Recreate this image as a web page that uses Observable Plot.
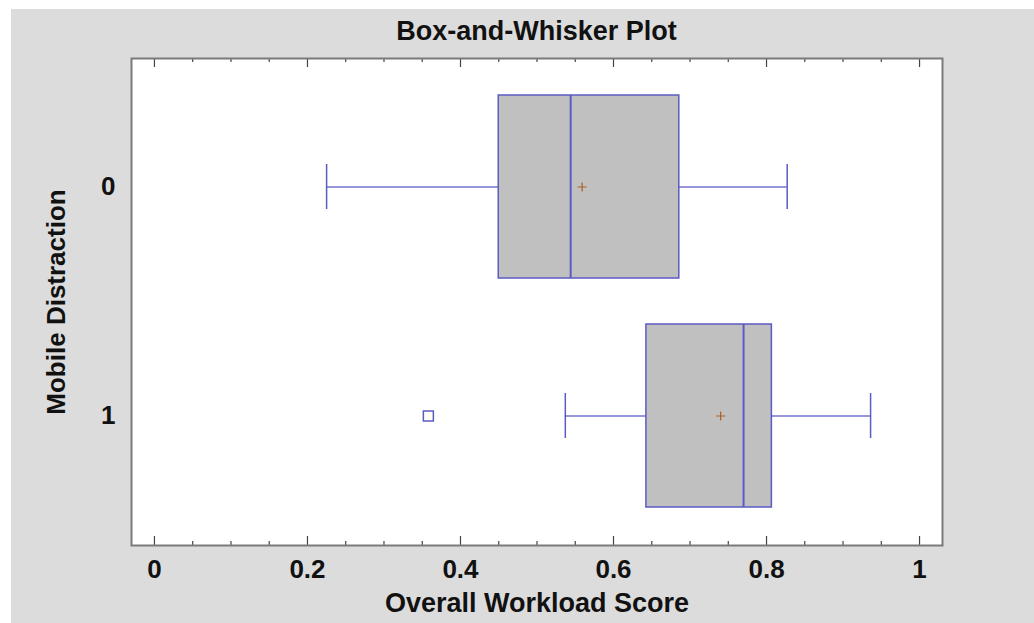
<!DOCTYPE html>
<html>
<head>
<meta charset="utf-8">
<script src="https://cdn.jsdelivr.net/npm/d3@7"></script>
<script src="https://cdn.jsdelivr.net/npm/@observablehq/plot@0.6"></script>
<style>
  html, body { margin: 0; padding: 0; background: #ffffff; }
  #panel { position: absolute; left: 11px; top: 9px; width: 1023px; height: 614px; background: #dcdcdc; overflow: hidden; }
  #title { position: absolute; left: 120px; width: 811px; top: 7px; text-align: center;
           font-family: "Liberation Sans", Arial, sans-serif; font-weight: bold; font-size: 27px; line-height: 30px; color: #111; }
  #chart { position: absolute; left: 0; top: 38px; }
  #chart svg { background: transparent; }
</style>
</head>
<body>
<div id="panel">
  <div id="title">Box-and-Whisker Plot</div>
  <div id="chart"></div>
</div>
<script>
// ---- data ----
const groups     = ["0", "1"];
const whiskerLo  = [0.225, 0.537];
const q1         = [0.450, 0.643];
const median     = [0.544, 0.770];
const q3         = [0.686, 0.807];
const whiskerHi  = [0.827, 0.936];
const mean       = [0.559, 0.740];
const outlierGroup = ["1"];
const outlierValue = [0.358];
const majorTicks = [0, 0.2, 0.4, 0.6, 0.8, 1];
const minorTicks = [0.05, 0.1, 0.15, 0.25, 0.3, 0.35, 0.45, 0.5, 0.55, 0.65, 0.7, 0.75, 0.85, 0.9, 0.95];
const xTitle = "Overall Workload Score";
const yTitle = "Mobile Distraction";

const stats = groups.map((g, i) => ({
  g, lo: whiskerLo[i], q1: q1[i], med: median[i], q3: q3[i], hi: whiskerHi[i], mean: mean[i]
}));
const outliers = outlierGroup.map((g, i) => ({g, x: outlierValue[i]}));

const thinPlus = { draw(ctx, size) { const r = Math.sqrt(size / Math.PI); ctx.moveTo(-r, 0); ctx.lineTo(r, 0); ctx.moveTo(0, -r); ctx.lineTo(0, r); } };
const openSquare = { draw(ctx, size) { const r = Math.sqrt(size / Math.PI); ctx.rect(-r, -r, 2 * r, 2 * r); } };

const W = 1023, H = 576;
const mT = 11, mB = 78, mL = 120, mR = 92;
const frameH = H - mT - mB;
const blue = "#5b5bc4";
const font = "'Liberation Sans', Arial, sans-serif";

const chart = Plot.plot({
  width: W, height: H,
  marginTop: mT, marginBottom: mB, marginLeft: mL, marginRight: mR,
  style: { background: "transparent", fontFamily: font, color: "#111", overflow: "visible" },
  x: { domain: [-0.03, 1.03] },
  y: { domain: groups, paddingInner: 0.2, paddingOuter: 0.16 },
  marks: [
    Plot.frame({ fill: "white", stroke: "none" }),
    // whiskers
    Plot.ruleY(stats, { y: "g", x1: "lo", x2: "q1", stroke: blue, strokeWidth: 1.4, strokeOpacity: 0.85 }),
    Plot.ruleY(stats, { y: "g", x1: "q3", x2: "hi", stroke: blue, strokeWidth: 1.4, strokeOpacity: 0.85 }),
    Plot.tickX(stats, { x: "lo", y: "g", insetTop: 69, insetBottom: 69, stroke: blue, strokeWidth: 1.5 }),
    Plot.tickX(stats, { x: "hi", y: "g", insetTop: 69, insetBottom: 69, stroke: blue, strokeWidth: 1.5 }),
    // boxes
    Plot.barX(stats, { y: "g", x1: "q1", x2: "q3", fill: "#c0c0c0", stroke: blue, strokeWidth: 1.5 }),
    Plot.tickX(stats, { x: "med", y: "g", stroke: blue, strokeWidth: 2 }),
    // mean
    Plot.dot(stats, { x: "mean", y: "g", symbol: thinPlus, r: 4.5, fill: "none", stroke: "#a8622a", strokeWidth: 1.2 }),
    // outliers
    Plot.dot(outliers, { x: "x", y: "g", symbol: openSquare, r: 5, fill: "none", stroke: blue, strokeWidth: 1.5 }),
    // ticks (inward, bottom and top)
    Plot.tickX(majorTicks, { x: d => d, insetTop: frameH - 9, stroke: "#444", strokeWidth: 1.2 }),
    Plot.tickX(minorTicks, { x: d => d, insetTop: frameH - 4, stroke: "#444", strokeWidth: 1.2 }),
    Plot.tickX(majorTicks, { x: d => d, insetBottom: frameH - 9, stroke: "#444", strokeWidth: 1.2 }),
    Plot.tickX(minorTicks, { x: d => d, insetBottom: frameH - 4, stroke: "#444", strokeWidth: 1.2 }),
    Plot.frame({ stroke: "#7a7a7a", strokeWidth: 2 }),
    // axes
    Plot.axisX(majorTicks, { anchor: "bottom", tickSize: 0, tickPadding: 14, tickFormat: d => String(d),
      fontSize: 26, fontWeight: "bold", label: null }),
    Plot.axisY({ anchor: "left", tickSize: 0, tickPadding: 16, fontSize: 26, fontWeight: "bold", label: null }),
    Plot.text([xTitle], { frameAnchor: "bottom", dy: 58, textAnchor: "middle", lineAnchor: "middle", fontSize: 27, fontWeight: "bold", fill: "#111" }),
    Plot.text([yTitle], { frameAnchor: "left", dx: -75, rotate: -90, textAnchor: "middle", lineAnchor: "middle", fontSize: 26, fontWeight: "bold", fill: "#111" })
  ]
});
document.getElementById("chart").appendChild(chart);
</script>
</body>
</html>
